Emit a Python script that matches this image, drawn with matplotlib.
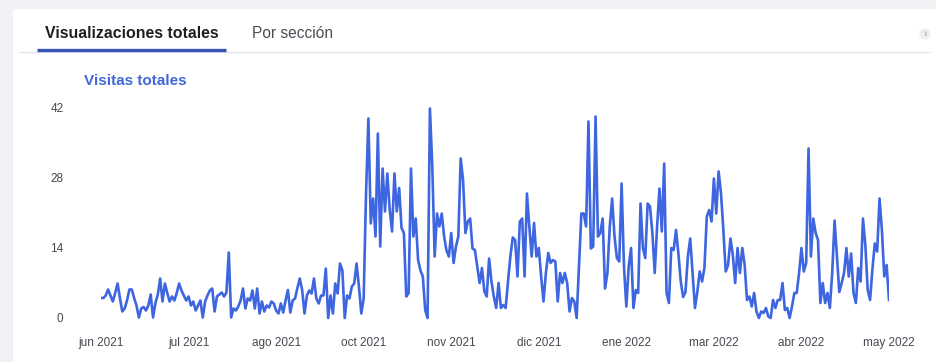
import matplotlib
matplotlib.use("Agg")
import matplotlib.pyplot as plt
from matplotlib.patches import Rectangle
import numpy as np

plt.rcParams['font.family'] = ['Liberation Sans', 'DejaVu Sans']

# ---- data (daily visits) ----
visits_jun_sep = [4, 4, 4.5, 5.7, 4.5, 3.3, 5, 6.9, 4, 1.3,
                  1.9, 3.5, 5.7, 5.7, 4, 2.5, 0.1, 1.9, 2.2, 1.5,
                  2.5, 4.7, 0.1, 3, 4.7, 7.9, 3.3, 6.9, 5, 3.3,
                  4.3, 3.5, 5, 6.9, 5.5, 4.5, 3.5, 4.3, 2.5, 3.3,
                  1.5, 2.5, 3.5, 0.1, 3.3, 4.5, 5.5, 5.9, 1.3, 4.3,
                  4.7, 5.1, 4.3, 5.1, 13.1, 0.1, 1.9, 1.5, 2.3, 3.5,
                  5.9, 1.9, 3.9, 3.5, 5.5, 1.9, 5.9, 0.9, 3.3, 1.3,
                  2.5, 2.1, 3.3]
visits_sep_oct = [2.9, 1.5, 0.9, 2.9, 1.1, 3.5, 5.6, 1.1, 3.5, 3.9,
                  6, 7.9, 5.6, 0.9, 4.5, 5.5, 4.9, 7.9, 3.9, 2.9,
                  4.5, 4.5, 9.9, 0, 4.5, 0.9, 6.9, 4.9, 10.9, 9.5,
                  0, 4.5, 3.9, 6.3, 6.9, 10.9, 6.3, 0.9, 3.9, 24.9,
                  39.9, 18.9, 23.9, 16.3, 36.9, 14.3, 29.9, 21.3, 28.9, 21.7,
                  17.3, 28.9, 21.3, 26, 18, 17, 4.3, 5, 29.9, 16.3,
                  19.9, 11.6, 9.5, 8.3, 1.6, 0, 41.9]
visits_nov_dic = [30.3, 12.3, 20.9, 18.3, 20.9, 16.3, 13.5, 12.3, 17, 11,
                  14.3, 16.3, 31.9, 27.6, 17, 19.3, 19.9, 13.9, 13.6, 10.3,
                  7, 10, 5.3, 4.3, 11.9, 7.3, 4.3, 2, 7, 2,
                  2.6, 2, 7.3, 12.3, 16.1, 15.6, 8.3, 19.3, 19.9, 8.3,
                  24.9, 18.3, 12.3, 19, 12.3, 14, 8.3, 3.3, 9, 13,
                  11, 11.6, 11.3, 3.3, 9, 7, 9, 7, 1.3, 4,
                  3.3, 0, 10.3, 20.9, 20.9, 18.3, 39.3, 13.9, 14.3, 40.3]
visits_ene_mar = [16.3, 17, 19.9, 5.9, 9, 18.3, 23.9, 16.3, 12, 11.3,
                  26.9, 10.3, 2.3, 10.3, 14, 2, 5.6, 5, 22.9, 14,
                  12, 22.9, 22.3, 17, 9, 18.3, 25.9, 17.3, 30.9, 5,
                  3, 14, 13.6, 17.6, 12.9, 7.3, 4.2, 5.2, 12.3, 15.9,
                  9, 2, 5.2, 9.3, 7.3, 10, 20.3, 21.6, 19.3, 27.9,
                  20.9, 29.3, 25, 17.6, 9.3, 10.6, 15.9, 12.6, 7, 14,
                  9, 14, 10.6, 3.6]
visits_mar_may = [4.3, 2.3, 5, 1.3, 0, 1.3, 1, 2, 0.3, 0,
                  3.6, 2, 3.6, 3.6, 7, 1.6, 2, 0, 2.3, 5,
                  5, 9, 14, 9.3, 11, 33.9, 12.3, 19.9, 17, 15.6,
                  3, 7, 3, 5, 2, 9, 19.5, 12.3, 5.2, 7,
                  9, 14, 8.3, 12.9, 5, 3, 10, 7.3, 19.9, 14.6,
                  5.6, 3.6, 9.8, 14.9, 13.3, 23.9, 17.6, 8.3, 10.6, 3.6]
visits = visits_jun_sep + visits_sep_oct + visits_nov_dic + visits_ene_mar + visits_mar_may

x_labels = ["jun 2021", "jul 2021", "ago 2021", "oct 2021", "nov 2021",
            "dic 2021", "ene 2022", "mar 2022", "abr 2022", "may 2022"]
y_ticks = [0, 14, 28, 42]

tabs = ["Visualizaciones totales", "Por sección"]
chart_title = "Visitas totales"

# ---- figure ----
W, H = 936, 362
fig = plt.figure(figsize=(W / 100, H / 100), dpi=100)
fig.patch.set_facecolor("#f0f2f5")

def fx(px):
    return px / W

def fy(py):
    return 1 - py / H

# white card (background axes)
bg = fig.add_axes([0, 0, 1, 1], zorder=-5)
bg.set_xlim(0, W)
bg.set_ylim(H, 0)
bg.axis("off")
bg.add_patch(Rectangle((13, 9), W - 13, H - 9, facecolor="white", edgecolor="none"))
bg.plot([20, 930], [52, 52], color="#e4e6eb", lw=1)
bg.plot([37, 226], [49.5, 49.5], color="#3a52b4", lw=2.4, solid_capstyle="butt")
bg.text(45, 33, tabs[0], fontsize=11.4, fontweight="bold", color="#1c1e21",
        va="center", ha="left")
bg.text(252, 33, tabs[1], fontsize=11.2, color="#4b4f56", va="center", ha="left")
bg.text(925, 34, "i", fontsize=6, color="#8d949e", ha="center", va="center",
        bbox=dict(boxstyle="circle,pad=0.25", fc="#eceef1", ec="none"))
bg.text(84, 81, chart_title, fontsize=11, fontweight="bold", color="#4267d6",
        va="center", ha="left")

# ---- axes ----
n = len(visits)
x = np.arange(n)
ymin, ymax = -1, 43.5
left_px, right_px = 101, 889
bot_px, top_px = 323, 100.5
ax = fig.add_axes([fx(left_px), fy(bot_px), fx(right_px - left_px), (bot_px - top_px) / H],
                  zorder=2)
ax.set_facecolor("none")
ax.plot(x, visits, color="#3d66e0", lw=1.9, solid_joinstyle="round")
ax.set_xlim(0, n - 1)
ax.set_ylim(ymin, ymax)

tick_pos = np.linspace(0, n - 1, len(x_labels))
ax.set_xticks(tick_pos)
ax.set_xticklabels(x_labels)
ax.set_yticks(y_ticks)
ax.set_yticklabels([str(v) for v in y_ticks])
ax.tick_params(axis="x", length=0, pad=10, labelsize=8.5, labelcolor="#444950")
ax.tick_params(axis="y", length=0, pad=27, labelsize=8.5, labelcolor="#444950")
for s in ax.spines.values():
    s.set_visible(False)

fig.savefig("out.png", dpi=100, facecolor=fig.get_facecolor())
